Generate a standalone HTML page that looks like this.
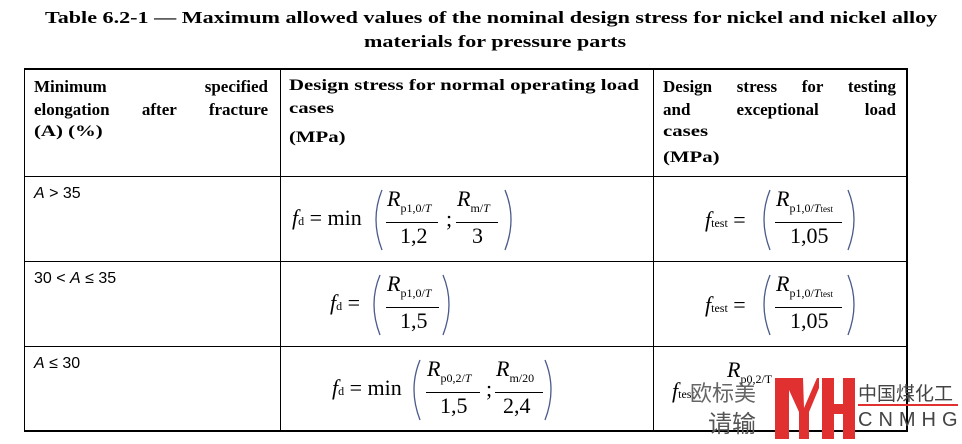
<!DOCTYPE html>
<html><head><meta charset="utf-8"><style>
body{margin:0;width:962px;height:439px;background:#fff;position:relative;overflow:hidden;font-family:"Liberation Serif",serif;color:#000}
.a{position:absolute;white-space:nowrap}
.t{font-weight:bold;font-size:17px;transform:scaleX(1.3);transform-origin:left top}
.h{font-weight:bold;font-size:16px;transform:scaleX(1.3);transform-origin:left top}
.j{position:absolute;font-weight:bold;font-size:17px;text-align:justify;text-align-last:justify;white-space:normal}
.c{font-size:16px;font-family:"Liberation Sans",sans-serif}
.m{font-family:"Liberation Serif",serif;font-size:22px}
.s{font-size:12px}
.ln{position:absolute;background:#000}
.fl{position:absolute;height:1px;background:#000}
</style></head><body>
<div class="a t" style="left:45px;top:8px">Table 6.2-1 — Maximum allowed values of the nominal design stress for nickel and nickel alloy</div>
<div class="a t" style="left:364px;top:32px">materials for pressure parts</div>

<div class="ln" style="left:24px;top:68px;width:883px;height:2px"></div>
<div class="ln" style="left:24px;top:176px;width:883px;height:1px"></div>
<div class="ln" style="left:24px;top:261px;width:883px;height:1px"></div>
<div class="ln" style="left:24px;top:346px;width:883px;height:1px"></div>
<div class="ln" style="left:24px;top:430px;width:883px;height:2px"></div>
<div class="ln" style="left:24px;top:68px;width:1px;height:364px"></div>
<div class="ln" style="left:280px;top:68px;width:1px;height:364px"></div>
<div class="ln" style="left:653px;top:68px;width:1px;height:364px"></div>
<div class="ln" style="left:906px;top:68px;width:2px;height:364px"></div>

<div class="j" style="left:34px;top:77px;width:234px">Minimum specified</div>
<div class="j" style="left:34px;top:100px;width:234px">elongation after fracture</div>
<div class="a h" style="left:34px;top:123px">(A) (%)</div>

<div class="a h" style="left:289px;top:77px">Design stress for normal operating load</div>
<div class="a h" style="left:289px;top:100px">cases</div>
<div class="a h" style="left:289px;top:129px">(MPa)</div>

<div class="j" style="left:663px;top:77px;width:233px">Design stress for testing</div>
<div class="j" style="left:663px;top:100px;width:233px">and exceptional load</div>
<div class="a h" style="left:663px;top:123px">cases</div>
<div class="a h" style="left:663px;top:149px">(MPa)</div>

<div class="a c" style="left:34px;top:185px"><i>A</i> &gt; 35</div>
<div class="a c" style="left:34px;top:270px">30 &lt; <i>A</i> ≤ 35</div>
<div class="a c" style="left:34px;top:355px"><i>A</i> ≤ 30</div>

<svg class="a" style="left:0;top:0" width="962" height="439">
<g fill="none" stroke="#4a5a8a" stroke-width="1.3">
<path d="M382,190 Q370,219 382,250"/><path d="M505,190 Q517,219 505,250"/>
<path d="M770,190 Q758,219 770,250"/><path d="M848,190 Q860,219 848,250"/>
<path d="M380,275 Q368,304 380,335"/><path d="M443,275 Q455,304 443,335"/>
<path d="M770,275 Q758,304 770,335"/><path d="M848,275 Q860,304 848,335"/>
<path d="M420,360 Q408,389 420,420"/><path d="M545,360 Q557,389 545,420"/>
</g></svg>

<div class="a m" style="left:292px;top:205px"><i>f</i><span class="s">d</span> = min</div>
<div class="a m" style="left:387px;top:186px"><i>R</i><span class="s" style="position:relative;top:6px">p1,0/<i>T</i></span></div>
<div class="fl" style="left:386px;top:222px;width:52px"></div>
<div class="a m" style="left:400px;top:223px">1,2</div>
<div class="a m" style="left:446px;top:206px">;</div>
<div class="a m" style="left:457px;top:186px"><i>R</i><span class="s" style="position:relative;top:6px">m/<i>T</i></span></div>
<div class="fl" style="left:456px;top:222px;width:42px"></div>
<div class="a m" style="left:472px;top:223px">3</div>

<div class="a m" style="left:705px;top:207px"><i>f</i><span class="s">test</span> =</div>
<div class="a m" style="left:776px;top:186px"><i>R</i><span class="s" style="position:relative;top:6px">p1,0/<i>T</i><span style="font-size:9px">test</span></span></div>
<div class="fl" style="left:775px;top:222px;width:67px"></div>
<div class="a m" style="left:790px;top:223px">1,05</div>

<div class="a m" style="left:330px;top:290px"><i>f</i><span class="s">d</span> =</div>
<div class="a m" style="left:387px;top:271px"><i>R</i><span class="s" style="position:relative;top:6px">p1,0/<i>T</i></span></div>
<div class="fl" style="left:386px;top:307px;width:53px"></div>
<div class="a m" style="left:400px;top:308px">1,5</div>

<div class="a m" style="left:705px;top:292px"><i>f</i><span class="s">test</span> =</div>
<div class="a m" style="left:776px;top:271px"><i>R</i><span class="s" style="position:relative;top:6px">p1,0/<i>T</i><span style="font-size:9px">test</span></span></div>
<div class="fl" style="left:775px;top:307px;width:67px"></div>
<div class="a m" style="left:790px;top:308px">1,05</div>

<div class="a m" style="left:332px;top:375px"><i>f</i><span class="s">d</span> = min</div>
<div class="a m" style="left:427px;top:356px"><i>R</i><span class="s" style="position:relative;top:6px">p0,2/<i>T</i></span></div>
<div class="fl" style="left:426px;top:392px;width:54px"></div>
<div class="a m" style="left:440px;top:393px">1,5</div>
<div class="a m" style="left:486px;top:376px">;</div>
<div class="a m" style="left:496px;top:356px"><i>R</i><span class="s" style="position:relative;top:6px">m/20</span></div>
<div class="fl" style="left:495px;top:392px;width:48px"></div>
<div class="a m" style="left:503px;top:393px">2,4</div>

<div class="a m" style="left:672px;top:378px"><i>f</i><span class="s">test</span></div>
<div class="a m" style="left:727px;top:357px"><i>R</i><span class="s" style="position:relative;top:6px">p0,2/T</span></div>
<div class="a" style="left:690px;top:376px;font-size:22px;color:#666;font-family:'Noto Sans CJK SC',sans-serif">欧标美</div>
<div class="a" style="left:708px;top:404px;font-size:24px;color:#555;font-family:'Noto Sans CJK SC',sans-serif">请输</div>
<div class="a" style="left:775px;top:378px;width:14px;height:61px;background:#e03030"></div>
<div class="a" style="left:789px;top:378px;width:30px;height:61px">
<svg width="30" height="61"><path d="M0,0 L14,0 L15,30 L28,0 L30,0 L30,10 L20,34 L20,61 L10,61 L10,34 L0,12Z" fill="#e03030"/></svg></div>
<div class="a" style="left:822px;top:378px;width:12px;height:61px;background:#e03030"></div>
<div class="a" style="left:834px;top:404px;width:10px;height:10px;background:#e03030"></div>
<div class="a" style="left:843px;top:378px;width:12px;height:61px;background:#e03030"></div>
<div class="a" style="left:858px;top:379px;font-size:19px;color:#444;font-family:'Noto Sans CJK SC',sans-serif">中国煤化工</div>
<div class="a" style="left:858px;top:404px;width:100px;height:2px;background:#e03030"></div>
<div class="a" style="left:858px;top:409px;font-size:20px;color:#444;letter-spacing:6px;font-family:'Liberation Sans',sans-serif">CNMHG</div>
</body></html>
